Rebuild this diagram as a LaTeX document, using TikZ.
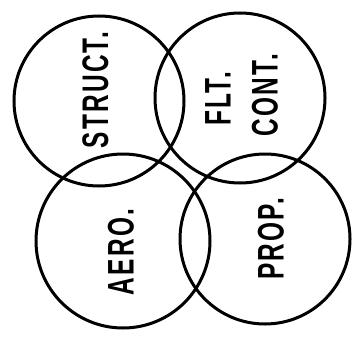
\documentclass[tikz,border=0pt]{standalone}
\usepackage{fontspec}
\newfontfamily\lett[FakeStretch=0.66,LetterSpace=6]{Liberation Sans}
\begin{document}
\begin{tikzpicture}[x=1pt,y=-1pt,
  ring/.style={circle,draw=black,line width=3pt,inner sep=0pt},
  lbl/.style={rotate=90,inner sep=0pt,font=\lett\bfseries\fontsize{37pt}{37pt}\selectfont}]
\useasboundingbox (0,0) rectangle (352,339);
\node[ring,minimum size=170pt] (struct) at (99,101) {};
\node[ring,minimum size=170pt] (flt) at (240,98) {};
\node[ring,minimum size=174pt] (aero) at (123,241) {};
\node[ring,minimum size=170pt] (prop) at (265,239) {};
\node[lbl] (tstruct) at (95.5,90) {STRUCT.};
\node[lbl] (tflt) at (218,99) {FLT.};
\node[lbl] (tcont) at (265,95) {CONT.};
\node[lbl] (taero) at (121,252) {AERO.};
\node[lbl] (tprop) at (271,239) {PROP.};
\end{tikzpicture}
\end{document}
